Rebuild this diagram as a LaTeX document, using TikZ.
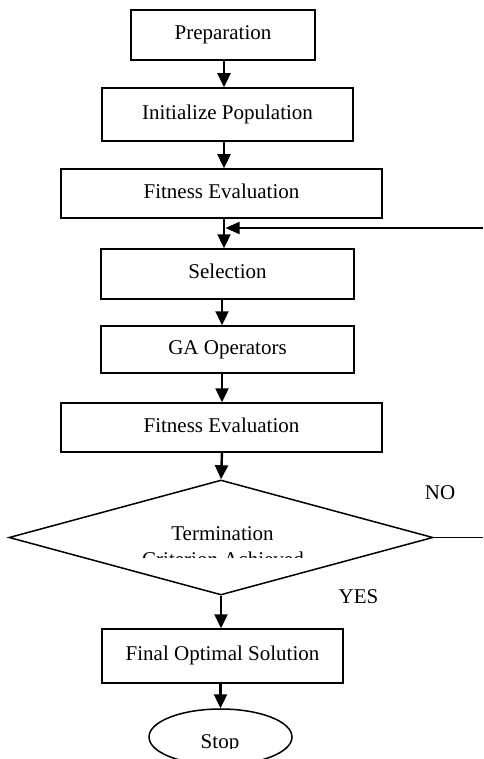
\documentclass[tikz,border=0pt]{standalone}
\usepackage{fontspec}
\setmainfont{Liberation Serif}
\usetikzlibrary{arrows.meta,shapes.geometric}
\begin{document}
\begin{tikzpicture}[x=1pt,y=-1pt,
  txt/.style={font=\fontsize{21}{25}\selectfont, text height=14pt, text depth=4.5pt, inner sep=0pt},
  box/.style={draw, line width=1.5pt, rectangle, inner sep=0pt, txt},
  arr/.style={line width=2.4pt, -{Triangle[length=14pt,width=13pt]}},
  thinline/.style={line width=1.8pt}]
\useasboundingbox (0,0) rectangle (483,759);
\clip (0,0) rectangle (483,759);
\coordinate (axis) at (224,0);
\coordinate (axisb) at (222,0);
\node[box, minimum width=184pt, minimum height=50pt] (prep) at (223,35) {Preparation};
\node[box, minimum width=251pt, minimum height=53pt] (init) at (227.5,114.5) {Initialize Population};
\node[box, minimum width=321pt, minimum height=49pt] (fit1) at (221.5,193.5) {Fitness Evaluation};
\node[box, minimum width=253pt, minimum height=50pt] (sel) at (227.5,274) {Selection};
\node[box, minimum width=253pt, minimum height=47pt] (ga) at (227.5,349.5) {GA Operators};
\node[box, minimum width=321pt, minimum height=49pt] (fit2) at (221.5,427.5) {Fitness Evaluation};
\node[draw, diamond, line width=1.5pt, inner sep=0pt, minimum width=424pt, minimum height=115pt] (term) at (221,537.5) {};
\node[box, minimum width=241pt, minimum height=54pt] (final) at (222.5,656) {Final Optimal Solution};
\node[draw, ellipse, line width=1.5pt, inner sep=0pt, minimum width=143pt, minimum height=56pt] (stop) at (220.5,737) {};
% texts of diamond and ellipse
\node[txt, anchor=base] (t1) at (222.5,540) {Termination};
\begin{scope}
\clip (0,540) rectangle (483,557);
\node[txt, anchor=base] (t2) at (223,566) {Criterion Achieved};
\end{scope}
\begin{scope}
\clip (0,720) rectangle (483,748.5);
\node[txt, anchor=base] (stoptxt) at (220,748) {Stop};
\end{scope}
\node[txt, anchor=base] (no) at (440,499) {NO};
\node[txt, anchor=base] (yes) at (358.5,603) {YES};
% connectors
\draw[arr] (prep.south -| axis) -- (init.north -| axis);
\draw[arr] (init.south -| axis) -- (fit1.north -| axis);
\draw[arr] (fit1.south -| axis) -- (sel.north -| axis);
\draw[arr] (sel.south -| axisb) -- (ga.north -| axisb);
\draw[arr] (ga.south -| axisb) -- (fit2.north -| axisb);
\draw[arr] (fit2.south -| axisb) -- (term.north);
\draw[arr] (term.south) -- (final.north -| term.south);
\draw[arr] (final.south -| stop.north) -- (stop.north);
\coordinate (fb) at (483,228);
\coordinate (nofree) at (483,537.5);
\draw[thinline, -{Triangle[length=14pt,width=12pt]}] (fb) -- ([xshift=1.5pt]axis |- fb);
\draw[thinline] (term.east) -- (nofree);
\end{tikzpicture}
\end{document}
